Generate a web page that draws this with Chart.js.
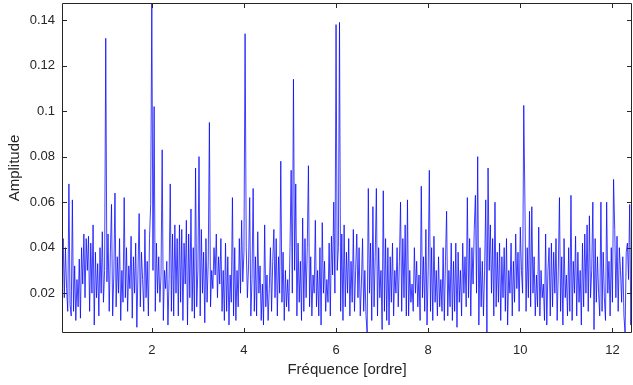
<!DOCTYPE html>
<html>
<head>
<meta charset="utf-8">
<script src="https://cdn.jsdelivr.net/npm/chart.js@4"></script>
<style>
  html, body { margin: 0; padding: 0; background: #fff; }
  #wrap { width: 633px; height: 385px; }
</style>
</head>
<body>
<div id="wrap"><canvas id="chart" width="633" height="385"></canvas></div>
<script>
// spectrum sampled every 0.025 order, starting at 0.05
const freqStart = 0.05;
const freqStep = 0.025;

// amplitude, one row = half an order
const amplitude = [
  0.030, 0.044, 0.018, 0.040, 0.022, 0.012, 0.068, 0.015, 0.010, 0.061, 0.012, 0.032, 0.008, 0.026, 0.014, 0.035, 0.009, 0.040, 0.024, 0.046,
  0.018, 0.044, 0.030, 0.045, 0.012, 0.042, 0.020, 0.050, 0.006, 0.038, 0.018, 0.033, 0.010, 0.040, 0.020, 0.047, 0.016, 0.030, 0.132, 0.025,
  0.046, 0.012, 0.038, 0.059, 0.010, 0.028, 0.064, 0.014, 0.036, 0.020, 0.044, 0.008, 0.030, 0.016, 0.062, 0.018, 0.040, 0.012, 0.032, 0.022,
  0.045, 0.009, 0.036, 0.020, 0.042, 0.005, 0.030, 0.055, 0.014, 0.038, 0.026, 0.012, 0.048, 0.018, 0.034, 0.010, 0.044, 0.059, 0.1475, 0.030,
  0.102, 0.012, 0.042, 0.020, 0.036, 0.016, 0.028, 0.083, 0.008, 0.030, 0.022, 0.034, 0.006, 0.026, 0.068, 0.012, 0.046, 0.010, 0.050, 0.020,
  0.044, 0.010, 0.050, 0.016, 0.048, 0.008, 0.042, 0.024, 0.052, 0.006, 0.046, 0.018, 0.057, 0.012, 0.040, 0.009, 0.075, 0.014, 0.030, 0.080,
  0.010, 0.048, 0.020, 0.038, 0.007, 0.044, 0.016, 0.034, 0.095, 0.014, 0.030, 0.022, 0.040, 0.028, 0.046, 0.018, 0.036, 0.024, 0.044, 0.012,
  0.030, 0.008, 0.042, 0.012, 0.036, 0.006, 0.028, 0.016, 0.062, 0.010, 0.040, 0.008, 0.030, 0.014, 0.044, 0.020, 0.052, 0.025, 0.038, 0.134,
  0.040, 0.018, 0.032, 0.062, 0.010, 0.026, 0.066, 0.012, 0.036, 0.010, 0.047, 0.020, 0.032, 0.008, 0.024, 0.006, 0.050, 0.014, 0.028, 0.008,
  0.022, 0.040, 0.012, 0.034, 0.048, 0.018, 0.044, 0.010, 0.036, 0.020, 0.078, 0.016, 0.038, 0.008, 0.030, 0.014, 0.026, 0.012, 0.040, 0.074,
  0.020, 0.114, 0.030, 0.068, 0.010, 0.042, 0.016, 0.034, 0.008, 0.053, 0.012, 0.044, 0.018, 0.040, 0.076, 0.014, 0.036, 0.010, 0.028, 0.020,
  0.052, 0.014, 0.030, 0.010, 0.040, 0.006, 0.051, 0.020, 0.034, 0.012, 0.026, 0.016, 0.042, 0.010, 0.045, 0.028, 0.060, 0.020, 0.138, 0.030,
  0.040, 0.139, 0.012, 0.046, 0.008, 0.050, 0.014, 0.038, 0.020, 0.044, 0.010, 0.034, 0.016, 0.048, 0.012, 0.030, 0.046, 0.018, 0.040, 0.010,
  0.024, 0.044, 0.012, 0.030, 0.010, 0.0025, 0.066, 0.020, 0.042, 0.008, 0.058, 0.014, 0.036, 0.066, 0.010, 0.040, 0.018, 0.030, 0.004, 0.065,
  0.012, 0.044, 0.008, 0.040, 0.006, 0.036, 0.016, 0.042, 0.010, 0.030, 0.020, 0.040, 0.014, 0.034, 0.060, 0.012, 0.044, 0.018, 0.050, 0.010,
  0.061, 0.010, 0.030, 0.016, 0.024, 0.012, 0.040, 0.020, 0.034, 0.014, 0.028, 0.008, 0.067, 0.018, 0.036, 0.012, 0.048, 0.006, 0.030, 0.074,
  0.012, 0.040, 0.008, 0.045, 0.016, 0.030, 0.010, 0.036, 0.014, 0.026, 0.012, 0.040, 0.008, 0.034, 0.056, 0.010, 0.030, 0.014, 0.042, 0.008,
  0.034, 0.012, 0.042, 0.005, 0.038, 0.016, 0.030, 0.010, 0.042, 0.020, 0.036, 0.014, 0.062, 0.018, 0.044, 0.010, 0.040, 0.024, 0.048, 0.063,
  0.020, 0.080, 0.006, 0.040, 0.014, 0.034, 0.010, 0.030, 0.061, 0.0025, 0.075, 0.030, 0.050, 0.020, 0.044, 0.010, 0.060, 0.014, 0.038, 0.016,
  0.042, 0.008, 0.036, 0.018, 0.040, 0.012, 0.044, 0.006, 0.030, 0.020, 0.042, 0.010, 0.034, 0.016, 0.046, 0.022, 0.038, 0.012, 0.049, 0.030,
  0.020, 0.1025, 0.060, 0.012, 0.040, 0.018, 0.056, 0.014, 0.058, 0.020, 0.036, 0.010, 0.028, 0.014, 0.049, 0.010, 0.030, 0.018, 0.024, 0.008,
  0.046, 0.006, 0.030, 0.040, 0.010, 0.042, 0.014, 0.038, 0.020, 0.044, 0.008, 0.030, 0.062, 0.012, 0.036, 0.006, 0.044, 0.018, 0.028, 0.010,
  0.040, 0.012, 0.063, 0.008, 0.034, 0.020, 0.045, 0.010, 0.038, 0.016, 0.030, 0.006, 0.042, 0.014, 0.046, 0.020, 0.050, 0.012, 0.054, 0.018,
  0.030, 0.060, 0.004, 0.044, 0.016, 0.036, 0.020, 0.010, 0.060, 0.012, 0.038, 0.018, 0.008, 0.060, 0.020, 0.034, 0.010, 0.040, 0.016, 0.070,
  0.048, 0.018, 0.045, 0.012, 0.040, 0.030, 0.016, 0.036, 0.010, 0.0025, 0.038, 0.042, 0.026, 0.059, 0.006, 0.028
];

const xTicks = [2, 4, 6, 8, 10, 12];
const yTicks = [0.02, 0.04, 0.06, 0.08, 0.1, 0.12, 0.14];

const axisColor = '#262626';
const fontFamily = 'Arial, "Liberation Sans", Helvetica, sans-serif';

const points = amplitude.map((a, i) => ({ x: freqStart + i * freqStep, y: a }));

// matlab style box with inward ticks on all four sides
const boxPlugin = {
    id: 'box',
    afterDraw(chart) {
        const { ctx, chartArea: a, scales } = chart;
        const len = 5;
        ctx.save();
        ctx.strokeStyle = axisColor;
        ctx.lineWidth = 1;
        ctx.beginPath();
        ctx.rect(a.left + 0.5, a.top + 0.5, a.right - a.left - 1, a.bottom - a.top - 1);
        xTicks.forEach(v => {
            const px = Math.round(scales.x.getPixelForValue(v)) + 0.5;
            ctx.moveTo(px, a.bottom);
            ctx.lineTo(px, a.bottom - len);
            ctx.moveTo(px, a.top);
            ctx.lineTo(px, a.top + len);
        });
        yTicks.forEach(v => {
            const py = Math.round(scales.y.getPixelForValue(v)) + 0.5;
            ctx.moveTo(a.left, py);
            ctx.lineTo(a.left + len, py);
            ctx.moveTo(a.right, py);
            ctx.lineTo(a.right - len, py);
        });
        ctx.stroke();
        ctx.restore();
    }
};

new Chart(document.querySelector('#chart'), {
    type: 'line',
    data: {
        datasets: [{
            data: points,
            borderColor: '#0000ff',
            borderWidth: 0.75,
            pointRadius: 0,
            tension: 0,
            fill: false
        }]
    },
    options: {
        responsive: false,
        animation: false,
        events: [],
        layout: { padding: { top: 3, right: 1, left: 0, bottom: 0 } },
        plugins: { legend: { display: false }, tooltip: { enabled: false } },
        scales: {
            x: {
                type: 'linear',
                min: freqStart,
                max: freqStart + (amplitude.length - 1) * freqStep,
                afterBuildTicks: s => { s.ticks = xTicks.map(v => ({ value: v })); },
                afterFit: s => { s.height = 52; s.paddingLeft = 0; s.paddingRight = 0; },
                grid: { display: false, drawTicks: false },
                border: { display: false },
                ticks: {
                    color: axisColor,
                    font: { family: fontFamily, size: 13 },
                    padding: 10,
                    maxRotation: 0,
                    callback: v => String(v)
                },
                title: {
                    display: true,
                    text: 'Fréquence [ordre]',
                    color: axisColor,
                    font: { family: fontFamily, size: 15 },
                    padding: { top: 0, bottom: 6 }
                }
            },
            y: {
                type: 'linear',
                min: Math.min(...amplitude),
                max: Math.max(...amplitude),
                afterBuildTicks: s => { s.ticks = yTicks.map(v => ({ value: v })); },
                afterFit: s => { s.width = 62; s.paddingTop = 0; s.paddingBottom = 0; },
                grid: { display: false, drawTicks: false },
                border: { display: false },
                ticks: {
                    color: axisColor,
                    font: { family: fontFamily, size: 13 },
                    padding: 7,
                    callback: v => String(Number(v.toFixed(2)))
                },
                title: {
                    display: true,
                    text: 'Amplitude',
                    color: axisColor,
                    font: { family: fontFamily, size: 15 },
                    padding: { top: 6, bottom: 0 }
                }
            }
        }
    },
    plugins: [boxPlugin]
});
</script>
</body>
</html>
